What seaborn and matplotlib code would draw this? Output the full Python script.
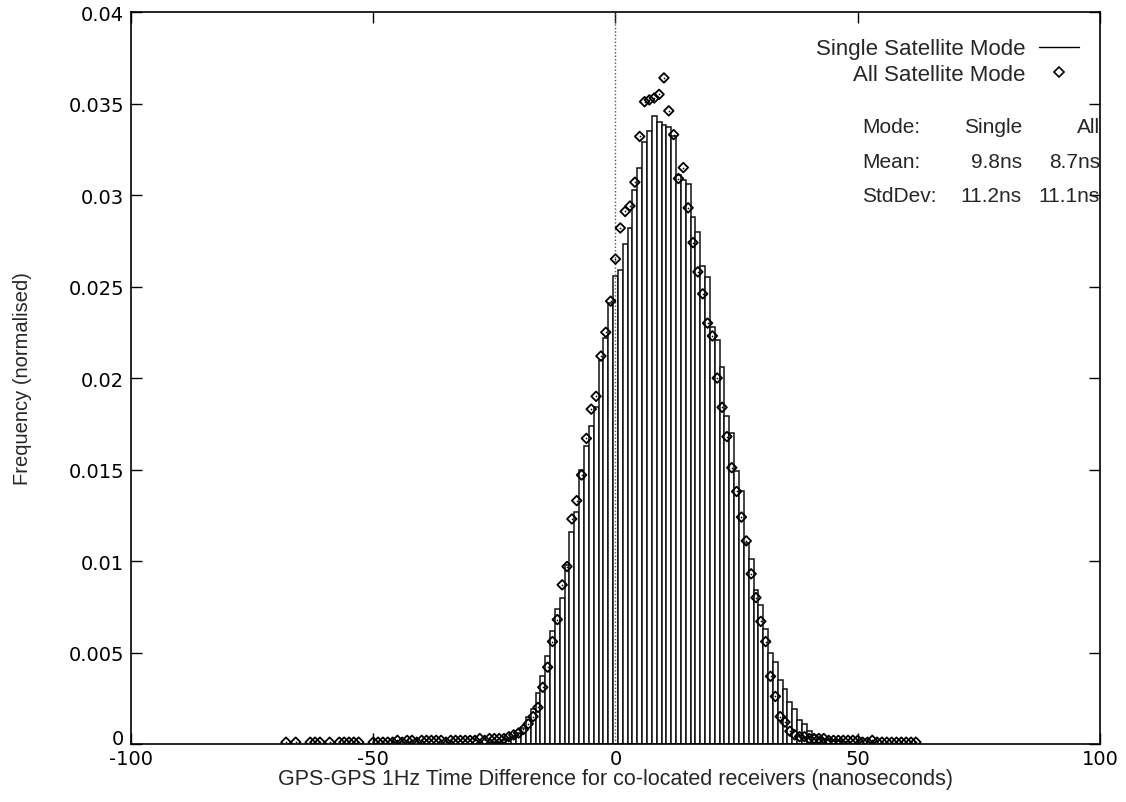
"""GPS-GPS 1Hz time difference histogram, single vs all satellite mode."""

import matplotlib
matplotlib.use("Agg")
import matplotlib.pyplot as plt
import seaborn as sns
from matplotlib.lines import Line2D
from matplotlib.ticker import FuncFormatter

# Single Satellite Mode: 1 ns bins (bin centre, normalised frequency)
single_ns = list(range(-25, 49))
single_freq = [
    0.0001, 0.0001, 0.0002, 0.0003, 0.0004, 0.0006, 0.0009, 0.0015, 0.0019, 0.0028,  # -25..-16
    0.0037, 0.0048, 0.0062, 0.0074, 0.0080, 0.0098, 0.0116, 0.0127, 0.0150, 0.0163,  # -15..-6
    0.0174, 0.0184, 0.0210, 0.0222, 0.0241, 0.0256, 0.0259, 0.0273, 0.0282, 0.0303,  # -5..4
    0.0315, 0.0329, 0.0335, 0.0343, 0.0340, 0.0338, 0.0337, 0.0332, 0.0311, 0.0308,  # 5..14
    0.0306, 0.0288, 0.0280, 0.0261, 0.0255, 0.0228, 0.0221, 0.0206, 0.0179, 0.0170,  # 15..24
    0.0149, 0.0138, 0.0110, 0.0101, 0.0084, 0.0076, 0.0063, 0.0050, 0.0045, 0.0035,  # 25..34
    0.0030, 0.0023, 0.0019, 0.0013, 0.0011, 0.0007, 0.0005, 0.0004, 0.0003, 0.0003,  # 35..44
    0.0002, 0.0002, 0.0001, 0.0001,                                                  # 45..48
]

# All Satellite Mode: one point per ns (gaps where the tail is empty)
all_ns = (
    [-68, -66, -63, -62, -61, -59, -57, -56, -55, -54, -53]
    + list(range(-50, 63))
)
all_freq = [
    0.0001, 0.0001, 0.0001, 0.0001, 0.0001, 0.0001, 0.0001, 0.0001, 0.0001, 0.0001, 0.0001,  # -68..-53
    0.0001, 0.0001, 0.0001, 0.0001, 0.0001, 0.0002, 0.0001, 0.0002, 0.0002, 0.0001,  # -50..-41
    0.0002, 0.0002, 0.0002, 0.0002, 0.0002, 0.0001, 0.0002, 0.0002, 0.0002, 0.0002,  # -40..-31
    0.0002, 0.0002, 0.0003, 0.0002, 0.0003, 0.0003, 0.0003, 0.0003, 0.0004, 0.0005,  # -30..-21
    0.0006, 0.0008, 0.0011, 0.0015, 0.0020, 0.0031, 0.0042, 0.0056, 0.0068, 0.0087,  # -20..-11
    0.0097, 0.0123, 0.0133, 0.0147, 0.0167, 0.0183, 0.0190, 0.0212, 0.0225, 0.0242,  # -10..-1
    0.0265, 0.0282, 0.0291, 0.0294, 0.0307, 0.0332, 0.0351, 0.0352, 0.0353, 0.0355,  # 0..9
    0.0364, 0.0346, 0.0333, 0.0309, 0.0315, 0.0293, 0.0274, 0.0258, 0.0246, 0.0230,  # 10..19
    0.0223, 0.0200, 0.0184, 0.0168, 0.0151, 0.0138, 0.0124, 0.0111, 0.0093, 0.0080,  # 20..29
    0.0067, 0.0056, 0.0037, 0.0026, 0.0015, 0.0012, 0.0007, 0.0005, 0.0004, 0.0004,  # 30..39
    0.0003, 0.0003, 0.0003, 0.0003, 0.0002, 0.0002, 0.0002, 0.0002, 0.0002, 0.0002,  # 40..49
    0.0002, 0.0001, 0.0001, 0.0002, 0.0001, 0.0001, 0.0001, 0.0001, 0.0001, 0.0001,  # 50..59
    0.0001, 0.0001, 0.0001,                                                          # 60..62
]

stats_rows = [
    ("Mode:", "Single", "All"),
    ("Mean:", "9.8ns", "8.7ns"),
    ("StdDev:", "11.2ns", "11.1ns"),
]

sns.set_style("white")
plt.rcParams["font.family"] = ["Liberation Sans", "DejaVu Sans"]
plt.rcParams["axes.unicode_minus"] = False

fig = plt.figure(figsize=(11.26, 8.03), dpi=100)
ax = fig.add_axes([0.1163, 0.0722, 0.8606, 0.9116])

sns.histplot(
    x=single_ns, weights=single_freq, discrete=True, stat="count",
    color="white", edgecolor="#111111", linewidth=1.1, alpha=1, ax=ax,
)
ax.axvline(0, color="#555555", linestyle=(0, (1, 1.5)), linewidth=1.0, zorder=1)

sns.scatterplot(
    x=all_ns, y=all_freq, marker="D", s=24, facecolor="none",
    edgecolor="black", linewidth=1.3, ax=ax, zorder=3,
)
sns.scatterplot(
    x=all_ns, y=all_freq, marker="o", s=1.5, color="black",
    linewidth=0, ax=ax, zorder=4,
)

ax.set_xlim(-100, 100)
ax.set_ylim(0, 0.04)
ax.set_xticks([-100, -50, 0, 50, 100])
ax.set_yticks([i * 0.005 for i in range(9)])
ax.yaxis.set_major_formatter(FuncFormatter(lambda v, _: f"{v:g}"))
ax.tick_params(direction="in", length=8, width=1, top=True, right=True,
               bottom=True, left=True, labelsize=14, colors="black")
ax.tick_params(axis="x", pad=3.5)
ax.tick_params(axis="y", pad=5)
for lab in ax.get_xticklabels() + ax.get_yticklabels():
    lab.set_fontfamily("DejaVu Sans")
# keep the "0" on the y axis clear of the "-100" below it
ax.yaxis.get_major_ticks()[0].label1.set_verticalalignment("baseline")
for sp in ax.spines.values():
    sp.set_color("black")
    sp.set_linewidth(1.2)

ax.set_xlabel("GPS-GPS 1Hz Time Difference for co-located receivers (nanoseconds)",
              fontsize=15.5, labelpad=0)
ax.set_ylabel("Frequency (normalised)", fontsize=14.5, labelpad=26)

handles = [
    Line2D([], [], color="black", linewidth=1.0),
    Line2D([], [], marker="D", linestyle="none", markerfacecolor="none",
           markeredgecolor="black", markersize=4.8, markeredgewidth=1.2),
]
ax.legend(handles, ["Single Satellite Mode", "All Satellite Mode"],
          markerfirst=False, frameon=False, loc="upper right",
          bbox_to_anchor=(0.987, 0.976), fontsize=16, handlelength=1.8,
          handletextpad=0.6, labelspacing=0.2, borderaxespad=0)

row_y = [0.844, 0.796, 0.749]
for (c1, c2, c3), y in zip(stats_rows, row_y):
    ax.text(0.7544, y, c1, transform=ax.transAxes, ha="left", va="center", fontsize=15)
    ax.text(0.9195, y, c2, transform=ax.transAxes, ha="right", va="center", fontsize=15)
    ax.text(1.0, y, c3, transform=ax.transAxes, ha="right", va="center", fontsize=15)

fig.savefig("out.png", dpi=100)
